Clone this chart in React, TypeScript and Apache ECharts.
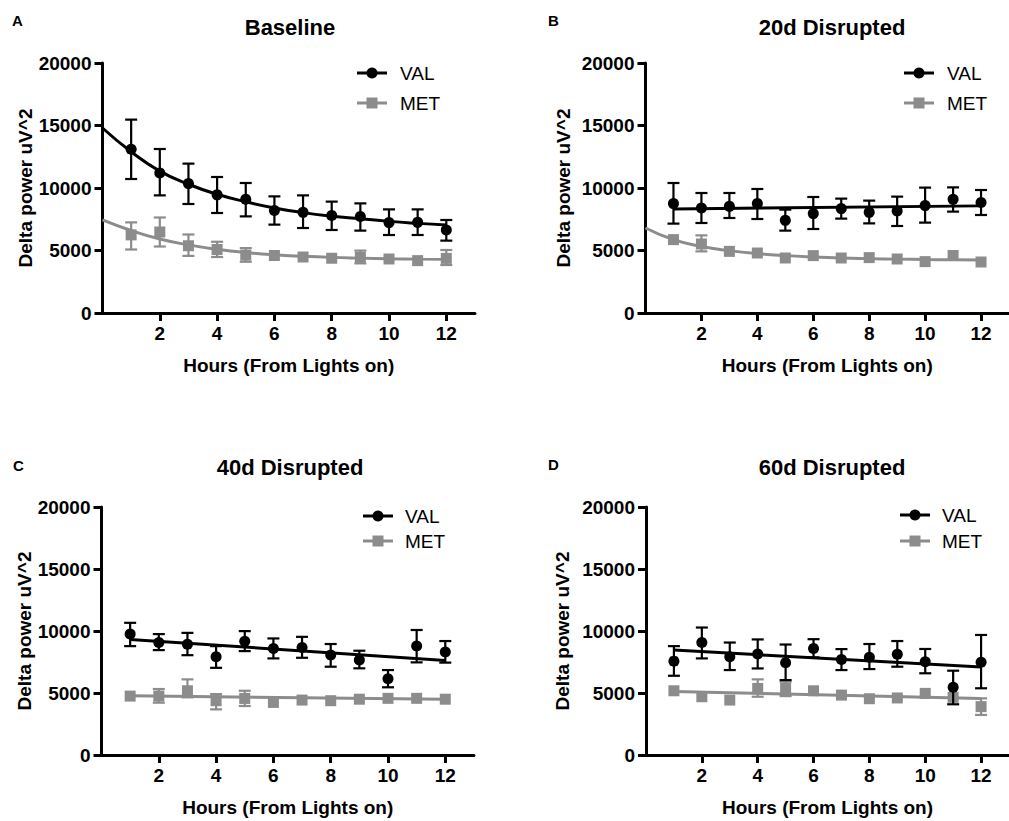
import React, { useEffect, useRef } from "react";
import * as echarts from "echarts";

// ---------- data ----------
const hours = [1, 2, 3, 4, 5, 6, 7, 8, 9, 10, 11, 12];
const fitHoursFull = [0, 1, 2, 3, 4, 5, 6, 7, 8, 9, 10, 11, 12];
const fitHoursEnds = [1, 12];
const xTickValues = [2, 4, 6, 8, 10, 12];
const yTickValues = [0, 5000, 10000, 15000, 20000];

const panelLetters = ["A", "B", "C", "D"];
const panelTitles = ["Baseline", "20d Disrupted", "40d Disrupted", "60d Disrupted"];
const seriesNames = ["VAL", "MET"];
const xAxisTitle = "Hours (From Lights on)";
const yAxisTitle = "Delta power uV^2";

// Panel A – Baseline
const aValMean = [13100, 11200, 10350, 9450, 9100, 8200, 8050, 7800, 7720, 7230, 7250, 6640];
const aValLow = [10720, 9410, 8720, 8000, 7730, 7070, 6800, 6640, 6590, 6240, 6240, 5790];
const aValHigh = [15470, 13120, 11950, 10880, 10400, 9330, 9410, 8910, 8770, 8290, 8290, 7440];
const aMetMean = [6250, 6480, 5380, 5080, 4630, 4600, 4480, 4380, 4450, 4320, 4190, 4370];
const aMetLow = [5080, 5320, 4570, 4480, 4100, 4170, 4480, 4380, 3970, 4320, 3710, 3840];
const aMetHigh = [7250, 7640, 6280, 5700, 5190, 5000, 4480, 4380, 4990, 4320, 4560, 5040];
const aValFit = [14800, 12900, 11350, 10300, 9500, 8900, 8400, 8030, 7750, 7540, 7330, 7170, 7040];
const aMetFit = [7450, 6600, 5920, 5450, 5100, 4840, 4660, 4540, 4450, 4390, 4340, 4310, 4290];

// Panel B – 20d Disrupted
const bValMean = [8750, 8400, 8530, 8750, 7410, 7950, 8350, 8050, 8160, 8590, 9090, 8840];
const bValLow = [7150, 7200, 7600, 7520, 6590, 6720, 7550, 7170, 6960, 7230, 8110, 7840];
const bValHigh = [10400, 9600, 9600, 9920, 8270, 9280, 9150, 8990, 9310, 10030, 10050, 9840];
const bMetMean = [5870, 5520, 4930, 4800, 4400, 4590, 4400, 4430, 4320, 4110, 4600, 4080];
const bMetLow = [5870, 4930, 4930, 4400, 4400, 4590, 4400, 4430, 4320, 4110, 4600, 4080];
const bMetHigh = [5870, 6210, 4930, 5120, 4400, 4590, 4400, 4430, 4320, 4110, 4600, 4080];
const bValFit = [8320, 8570];
const bMetFit = [6800, 5870, 5330, 4990, 4750, 4590, 4480, 4400, 4350, 4310, 4280, 4260, 4250];

// Panel C – 40d Disrupted
const cValMean = [9750, 9070, 8940, 7920, 9180, 8590, 8670, 8060, 7660, 6150, 8790, 8300];
const cValLow = [8780, 8460, 8050, 7030, 8380, 7790, 7840, 7120, 6990, 5460, 7470, 7450];
const cValHigh = [10660, 9750, 9850, 8780, 9990, 9400, 9530, 8950, 8410, 6850, 10080, 9190];
const cMetMean = [4750, 4750, 5180, 4380, 4560, 4240, 4430, 4380, 4500, 4570, 4570, 4500];
const cMetLow = [4430, 4220, 4650, 3680, 3950, 4240, 4430, 4380, 4500, 4570, 4570, 4500];
const cMetHigh = [5240, 5320, 6100, 4910, 5180, 4240, 4430, 4380, 4500, 4570, 4570, 4500];
const cValFit = [9320, 7620];
const cMetFit = [4780, 4490];

// Panel D – 60d Disrupted
const dValMean = [7570, 9070, 7920, 8140, 7440, 8590, 7700, 7880, 8130, 7520, 5460, 7480];
const dValLow = [6390, 7790, 6850, 6980, 6040, 7870, 6850, 6930, 7120, 6590, 4090, 5380];
const dValHigh = [8780, 10280, 9070, 9320, 8910, 9340, 8540, 8950, 9190, 8550, 6800, 9680];
const dMetMean = [5180, 4700, 4430, 5370, 5370, 5180, 4830, 4540, 4600, 4970, 4650, 3900];
const dMetLow = [4830, 4700, 3890, 4700, 4750, 5180, 4830, 4540, 4600, 4570, 4220, 3230];
const dMetHigh = [5560, 4700, 4830, 6100, 5910, 5180, 4830, 4540, 4600, 5300, 5100, 4570];
const dValFit = [8460, 7090];
const dMetFit = [5120, 4560];

// ---------- style / layout ----------
const FONT = "'Liberation Sans', Arial, Helvetica, sans-serif";
const BLACK = "#000000";
const GRAY = "#8c8c8c";
const HOUR_PX = 28.65;

const panels = [
  {
    valMean: aValMean, valLow: aValLow, valHigh: aValHigh,
    metMean: aMetMean, metLow: aMetLow, metHigh: aMetHigh,
    valFitX: fitHoursFull, valFit: aValFit, metFitX: fitHoursFull, metFit: aMetFit,
    left: 102.5, top: 63, height: 250, yGap: 66,
    legendX: 357, legendY: [73, 103], legendTextX: 400,
    titleX: 290, titleY: 27, letterX: 12, letterY: 20,
  },
  {
    valMean: bValMean, valLow: bValLow, valHigh: bValHigh,
    metMean: bMetMean, metLow: bMetLow, metHigh: bMetHigh,
    valFitX: fitHoursEnds, valFit: bValFit, metFitX: fitHoursFull, metFit: bMetFit,
    left: 645.5, top: 63, height: 250, yGap: 73,
    legendX: 904, legendY: [73, 103], legendTextX: 947,
    titleX: 832, titleY: 27, letterX: 548, letterY: 20,
  },
  {
    valMean: cValMean, valLow: cValLow, valHigh: cValHigh,
    metMean: cMetMean, metLow: cMetLow, metHigh: cMetHigh,
    valFitX: fitHoursEnds, valFit: cValFit, metFitX: fitHoursEnds, metFit: cMetFit,
    left: 101.5, top: 507, height: 248, yGap: 64,
    legendX: 363, legendY: [516, 541], legendTextX: 405,
    titleX: 290, titleY: 467, letterX: 13, letterY: 465,
  },
  {
    valMean: dValMean, valLow: dValLow, valHigh: dValHigh,
    metMean: dMetMean, metLow: dMetLow, metHigh: dMetHigh,
    valFitX: fitHoursEnds, valFit: dValFit, metFitX: fitHoursEnds, metFit: dMetFit,
    left: 646, top: 507, height: 248, yGap: 74,
    legendX: 900, legendY: [515, 541], legendTextX: 942,
    titleX: 832, titleY: 467, letterX: 548, letterY: 464,
  },
];

function errorRender(color: string) {
  return (params: any, api: any) => {
    const x = api.value(0);
    const lo = api.coord([x, api.value(1)]);
    const hi = api.coord([x, api.value(2)]);
    if (Math.abs(lo[1] - hi[1]) < 12) {
      return { type: "group", children: [] };
    }
    const hw = 6;
    const st = { stroke: color, lineWidth: 2.2 };
    return {
      type: "group",
      children: [
        { type: "line", shape: { x1: lo[0], y1: lo[1], x2: hi[0], y2: hi[1] }, style: st },
        { type: "line", shape: { x1: lo[0] - hw, y1: lo[1], x2: lo[0] + hw, y2: lo[1] }, style: st },
        { type: "line", shape: { x1: hi[0] - hw, y1: hi[1], x2: hi[0] + hw, y2: hi[1] }, style: st },
      ],
    };
  };
}

function buildOption() {
  const grid: any[] = [];
  const xAxis: any[] = [];
  const yAxis: any[] = [];
  const series: any[] = [];
  const graphic: any[] = [];

  panels.forEach((p, i) => {
    grid.push({ left: p.left, top: p.top, width: 13 * HOUR_PX, height: p.height, containLabel: false });
    xAxis.push({
      gridIndex: i,
      type: "value",
      min: 0,
      max: 13,
      interval: 2,
      name: xAxisTitle,
      nameLocation: "middle",
      nameGap: 43,
      nameTextStyle: { fontFamily: FONT, fontWeight: "bold", fontSize: 19, color: BLACK },
      axisLine: { show: true, onZero: false, lineStyle: { color: BLACK, width: 3 } },
      axisTick: { show: true, length: 8, lineStyle: { color: BLACK, width: 3 }, customValues: xTickValues },
      axisLabel: {
        customValues: xTickValues,
        fontFamily: FONT, fontWeight: "bold", fontSize: 19, color: BLACK, margin: 11,
        formatter: (v: number) => (v === 0 || v === 13 ? "" : String(v)),
      },
      splitLine: { show: false },
    });
    yAxis.push({
      gridIndex: i,
      type: "value",
      min: 0,
      max: 20000,
      interval: 5000,
      name: yAxisTitle,
      nameLocation: "middle",
      nameRotate: 90,
      nameGap: p.yGap,
      nameTextStyle: { fontFamily: FONT, fontWeight: "bold", fontSize: 19, color: BLACK },
      axisLine: { show: true, onZero: false, lineStyle: { color: BLACK, width: 3 } },
      axisTick: { show: true, length: 8, lineStyle: { color: BLACK, width: 3 }, customValues: yTickValues },
      axisLabel: {
        customValues: yTickValues,
        fontFamily: FONT, fontWeight: "bold", fontSize: 19, color: BLACK, margin: 11,
        formatter: (v: number) => String(v),
      },
      splitLine: { show: false },
    });

    const metErr = hours.map((h, k) => [h, p.metLow[k], p.metHigh[k]]);
    const valErr = hours.map((h, k) => [h, p.valLow[k], p.valHigh[k]]);

    series.push({
      type: "custom", name: "MET", xAxisIndex: i, yAxisIndex: i, z: 2,
      renderItem: errorRender(GRAY), data: metErr, silent: true,
    });
    series.push({
      type: "line", name: "MET", xAxisIndex: i, yAxisIndex: i, z: 3,
      data: p.metFitX.map((h, k) => [h, p.metFit[k]]),
      smooth: true, showSymbol: false, symbol: "none",
      lineStyle: { color: GRAY, width: 3 }, itemStyle: { color: GRAY },
    });
    series.push({
      type: "scatter", name: "MET", xAxisIndex: i, yAxisIndex: i, z: 4,
      data: hours.map((h, k) => [h, p.metMean[k]]),
      symbol: "rect", symbolSize: 11, itemStyle: { color: GRAY, opacity: 1 },
    });
    series.push({
      type: "custom", name: "VAL", xAxisIndex: i, yAxisIndex: i, z: 5,
      renderItem: errorRender(BLACK), data: valErr, silent: true,
    });
    series.push({
      type: "line", name: "VAL", xAxisIndex: i, yAxisIndex: i, z: 6,
      data: p.valFitX.map((h, k) => [h, p.valFit[k]]),
      smooth: true, showSymbol: false, symbol: "none",
      lineStyle: { color: BLACK, width: 3 }, itemStyle: { color: BLACK },
    });
    series.push({
      type: "scatter", name: "VAL", xAxisIndex: i, yAxisIndex: i, z: 7,
      data: hours.map((h, k) => [h, p.valMean[k]]),
      symbol: "circle", symbolSize: 11, itemStyle: { color: BLACK, opacity: 1 },
    });

    // title & panel letter
    graphic.push({
      type: "text", x: p.titleX, y: p.titleY,
      style: { text: panelTitles[i], fontFamily: FONT, fontWeight: "bold", fontSize: 22, fill: BLACK, align: "center", verticalAlign: "middle" },
    });
    graphic.push({
      type: "text", x: p.letterX, y: p.letterY,
      style: { text: panelLetters[i], fontFamily: FONT, fontWeight: "bold", fontSize: 15, fill: BLACK, align: "left", verticalAlign: "middle" },
    });

    // legend
    seriesNames.forEach((nm, k) => {
      const y = p.legendY[k];
      const color = k === 0 ? BLACK : GRAY;
      graphic.push({ type: "line", shape: { x1: p.legendX, y1: y, x2: p.legendX + 30, y2: y }, style: { stroke: color, lineWidth: 3 } });
      if (k === 0) {
        graphic.push({ type: "circle", shape: { cx: p.legendX + 15, cy: y, r: 5.5 }, style: { fill: color } });
      } else {
        graphic.push({ type: "rect", shape: { x: p.legendX + 9.5, y: y - 5.5, width: 11, height: 11 }, style: { fill: color } });
      }
      graphic.push({
        type: "text", x: p.legendTextX, y: y,
        style: { text: nm, fontFamily: FONT, fontSize: 19, fill: BLACK, align: "left", verticalAlign: "middle" },
      });
    });
  });

  return {
    animation: false,
    backgroundColor: "#ffffff",
    textStyle: { fontFamily: FONT },
    grid,
    xAxis,
    yAxis,
    series,
    graphic,
  };
}

export default function App() {
  const ref = useRef<HTMLDivElement>(null);
  useEffect(() => {
    if (!ref.current) return;
    const chart = echarts.init(ref.current, undefined, { renderer: "svg" });
    chart.setOption(buildOption() as any);
    return () => chart.dispose();
  }, []);
  return (
    <div
      ref={ref}
      style={{ position: "absolute", left: 0, top: 0, width: 1009, height: 821, background: "#fff" }}
    />
  );
}
